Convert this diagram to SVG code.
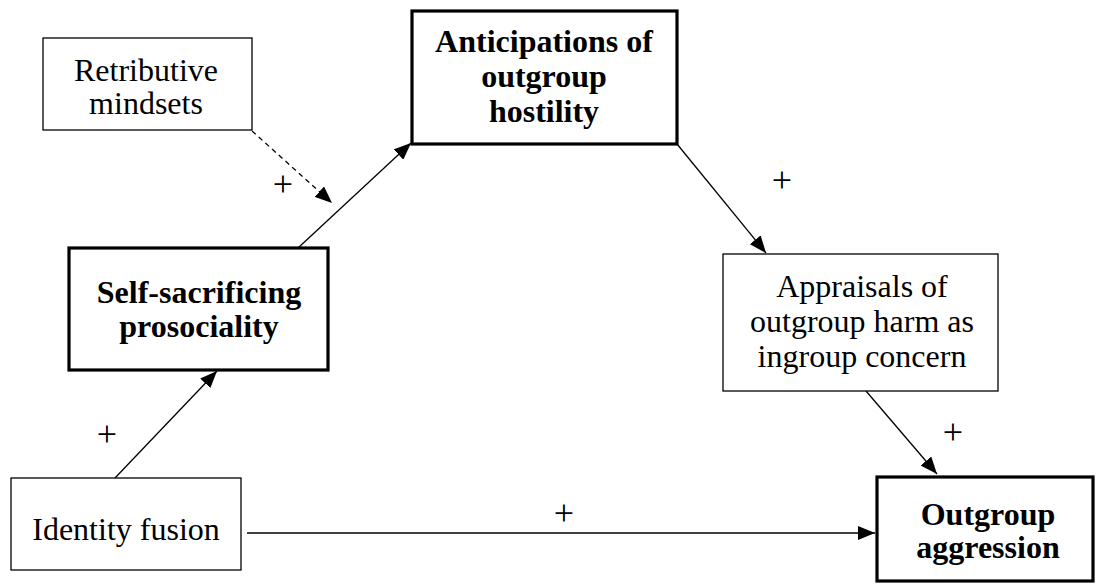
<svg xmlns="http://www.w3.org/2000/svg" width="1096" height="585" viewBox="0 0 1096 585">
  <style>
    .box { fill: #fff; stroke: #000; stroke-width: 1.3; }
    .box-bold { fill: #fff; stroke: #000; stroke-width: 3.2; }
    .lbl { font-family: "Liberation Serif", "Times New Roman", serif; font-size: 32px; fill: #000; text-anchor: middle; }
    .lbl-bold { font-family: "Liberation Serif", "Times New Roman", serif; font-size: 32px; font-weight: bold; fill: #000; text-anchor: middle; }
    .sign { font-family: "Liberation Serif", "Times New Roman", serif; font-size: 36px; fill: #000; text-anchor: middle; }
    .edge { stroke: #000; stroke-width: 1.3; fill: none; marker-end: url(#head); }
    .dashed { stroke-dasharray: 5 4; }
  </style>
  <defs>
    <marker id="head" viewBox="0 0 17 14" refX="17" refY="7" markerWidth="17" markerHeight="14" markerUnits="userSpaceOnUse" orient="auto">
      <path d="M0,0 L17,7 L0,14 z" fill="#000"/>
    </marker>
  </defs>

  <rect width="1096" height="585" fill="#fff"/>

  <!-- connectors -->
  <g id="connectors">
    <line class="edge" x1="115" y1="478" x2="217" y2="371"/>
    <line class="edge" x1="298" y1="248" x2="411" y2="143"/>
    <line class="edge dashed" x1="252" y1="131" x2="332" y2="203"/>
    <line class="edge" x1="677" y1="144" x2="766" y2="253"/>
    <line class="edge" x1="866" y1="391" x2="937" y2="474"/>
    <line class="edge" x1="247" y1="533" x2="875" y2="533"/>
    <text class="sign" x="107" y="446">+</text>
    <text class="sign" x="283" y="196">+</text>
    <text class="sign" x="782" y="192">+</text>
    <text class="sign" x="953" y="444">+</text>
    <text class="sign" x="564" y="525">+</text>
  </g>

  <!-- nodes -->
  <g id="retributive-mindsets">
    <rect class="box" x="43" y="38" width="209" height="92"/>
    <text class="lbl" x="146" y="81">Retributive</text>
    <text class="lbl" x="146" y="114">mindsets</text>
  </g>

  <g id="anticipations">
    <rect class="box-bold" x="412" y="11" width="265" height="133"/>
    <text class="lbl-bold" x="544" y="52">Anticipations of</text>
    <text class="lbl-bold" x="544" y="87">outgroup</text>
    <text class="lbl-bold" x="544" y="122">hostility</text>
  </g>

  <g id="self-sacrificing">
    <rect class="box-bold" x="69" y="248" width="259" height="122"/>
    <text class="lbl-bold" x="199" y="303">Self-sacrificing</text>
    <text class="lbl-bold" x="199" y="337">prosociality</text>
  </g>

  <g id="appraisals">
    <rect class="box" x="723" y="254" width="275" height="137"/>
    <text class="lbl" x="862" y="297">Appraisals of</text>
    <text class="lbl" x="862" y="332">outgroup harm as</text>
    <text class="lbl" x="862" y="367">ingroup concern</text>
  </g>

  <g id="identity-fusion">
    <rect class="box" x="11" y="478" width="230" height="92"/>
    <text class="lbl" x="126" y="540">Identity fusion</text>
  </g>

  <g id="outgroup-aggression">
    <rect class="box-bold" x="877" y="477" width="216" height="104"/>
    <text class="lbl-bold" x="988" y="525">Outgroup</text>
    <text class="lbl-bold" x="988" y="558">aggression</text>
  </g>
</svg>
